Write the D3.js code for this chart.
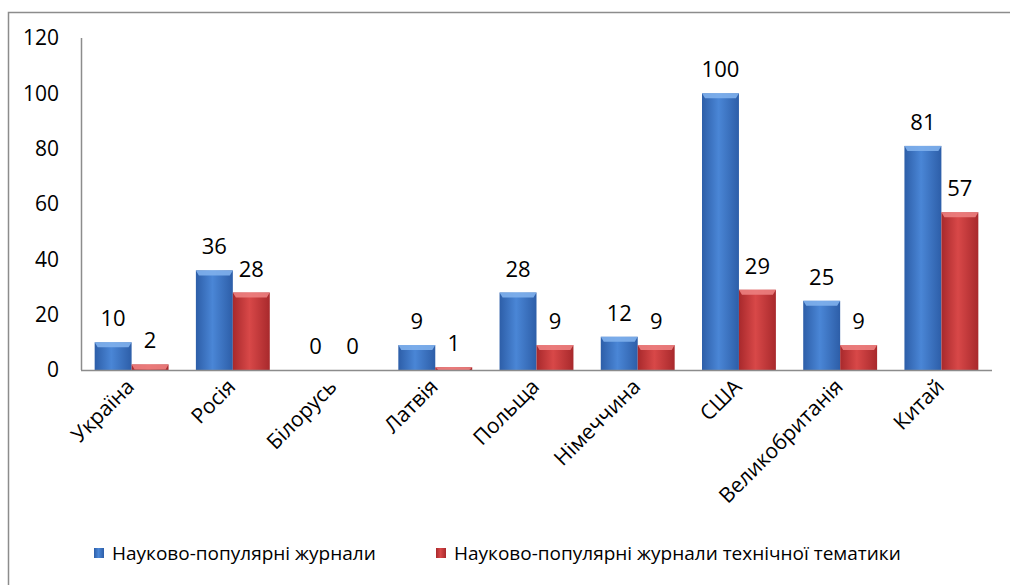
<!DOCTYPE html>
<html lang="uk">
<head>
<meta charset="utf-8">
<title>Журнали</title>
<script src="https://cdn.jsdelivr.net/npm/d3@7"></script>
<style>
    body { margin: 0; background: #fff; font-family: "Open Sans", sans-serif; }
    .tick text { font-size: 21px; fill: #000; }
    .val { font-size: 22px; text-anchor: middle; }
    .legend text { font-size: 19px; }
</style>
</head>
<body>
<svg id="chart" width="1010" height="585"></svg>
<script>
var countries = ["Україна", "Росія", "Білорусь", "Латвія", "Польща", "Німеччина", "США", "Великобританія", "Китай"];
var popular = [10, 36, 0, 9, 28, 12, 100, 25, 81];
var technical = [2, 28, 0, 1, 9, 9, 29, 9, 57];
var seriesNames = ["Науково-популярні журнали", "Науково-популярні журнали технічної тематики"];
var yTicks = [0, 20, 40, 60, 80, 100, 120];

var svg = d3.select("#chart");
var margin = { top: 38, left: 81, right: 18, bottom: 215 };
var width = 1010 - margin.left - margin.right,
    height = 585 - margin.top - margin.bottom;

// outer frame
svg.append("rect")
    .attr("x", 8.5).attr("y", 12.5)
    .attr("width", 1010).attr("height", 600)
    .attr("fill", "none").attr("stroke", "#8c8c8c").attr("stroke-width", 1.5);

var defs = svg.append("defs");
function grad(id, edge, mid) {
    var g = defs.append("linearGradient").attr("id", id)
        .attr("x1", "0%").attr("x2", "100%").attr("y1", "0%").attr("y2", "0%");
    g.append("stop").attr("offset", "0%").attr("stop-color", edge);
    g.append("stop").attr("offset", "45%").attr("stop-color", mid);
    g.append("stop").attr("offset", "100%").attr("stop-color", edge);
}
grad("gBlue", "#2d5ea8", "#4a86d6");
grad("gRed", "#a8292c", "#d84848");
var colors = ["url(#gBlue)", "url(#gRed)"];
var tops = ["#7fb0ec", "#ec8080"];

var g = svg.append("g").attr("transform", "translate(" + margin.left + "," + margin.top + ")");

var x0 = d3.scaleBand().domain(countries).range([0, width]).paddingInner(0.27).paddingOuter(0.135);
var x1 = d3.scaleBand().domain([0, 1]).range([0, x0.bandwidth()]);
var y = d3.scaleLinear().domain([0, 120]).range([height, 0]);

var data = countries.map(function (c, i) { return { c: c, v: [popular[i], technical[i]] }; });

var groups = g.selectAll(".grp").data(data).enter().append("g")
    .attr("transform", function (d) { return "translate(" + x0(d.c) + ",0)"; });

groups.each(function (d) {
    var sel = d3.select(this);
    d.v.forEach(function (v, k) {
        var bx = x1(k), bw = x1.bandwidth(), by = y(v), bh = height - y(v);
        if (bh > 0) {
            sel.append("rect").attr("x", bx).attr("y", by).attr("width", bw).attr("height", bh)
                .attr("fill", colors[k]);
            var bev = Math.min(5, bh);
            sel.append("path")
                .attr("d", "M" + bx + "," + by + "h" + bw + "l-3," + bev + "h" + (-bw + 6) + "z")
                .attr("fill", tops[k]).attr("opacity", 0.9);
        }
        sel.append("text").attr("class", "val")
            .attr("x", bx + bw / 2).attr("y", by - 16)
            .text(v);
    });
});

// axes
g.append("line").attr("x1", 0).attr("x2", width).attr("y1", height + 0.5).attr("y2", height + 0.5)
    .attr("stroke", "#8c8c8c").attr("stroke-width", 1.5);
g.append("line").attr("x1", 0.5).attr("x2", 0.5).attr("y1", 0).attr("y2", height)
    .attr("stroke", "#8c8c8c").attr("stroke-width", 1.5);

var yAxis = g.append("g").call(d3.axisLeft(y).tickValues(yTicks).tickSize(0).tickPadding(22));
yAxis.select(".domain").remove();
yAxis.selectAll(".tick text").style("font-family", "Open Sans, sans-serif");

var xAxis = g.append("g").attr("transform", "translate(0," + height + ")")
    .call(d3.axisBottom(x0).tickSize(0));
xAxis.select(".domain").remove();
xAxis.selectAll(".tick text")
    .style("font-family", "Open Sans, sans-serif")
    .style("font-size", "21px")
    .attr("text-anchor", "end")
    .attr("dy", null).attr("y", 0)
    .attr("transform", "translate(4,18) rotate(-45)");

// legend
var legend = svg.append("g").attr("class", "legend");
var lx = [94, 436];
seriesNames.forEach(function (n, k) {
    legend.append("rect").attr("x", lx[k]).attr("y", 548).attr("width", 10).attr("height", 10)
        .attr("fill", colors[k]);
    legend.append("text").attr("x", lx[k] + 18).attr("y", 560).text(n);
});
</script>
</body>
</html>
